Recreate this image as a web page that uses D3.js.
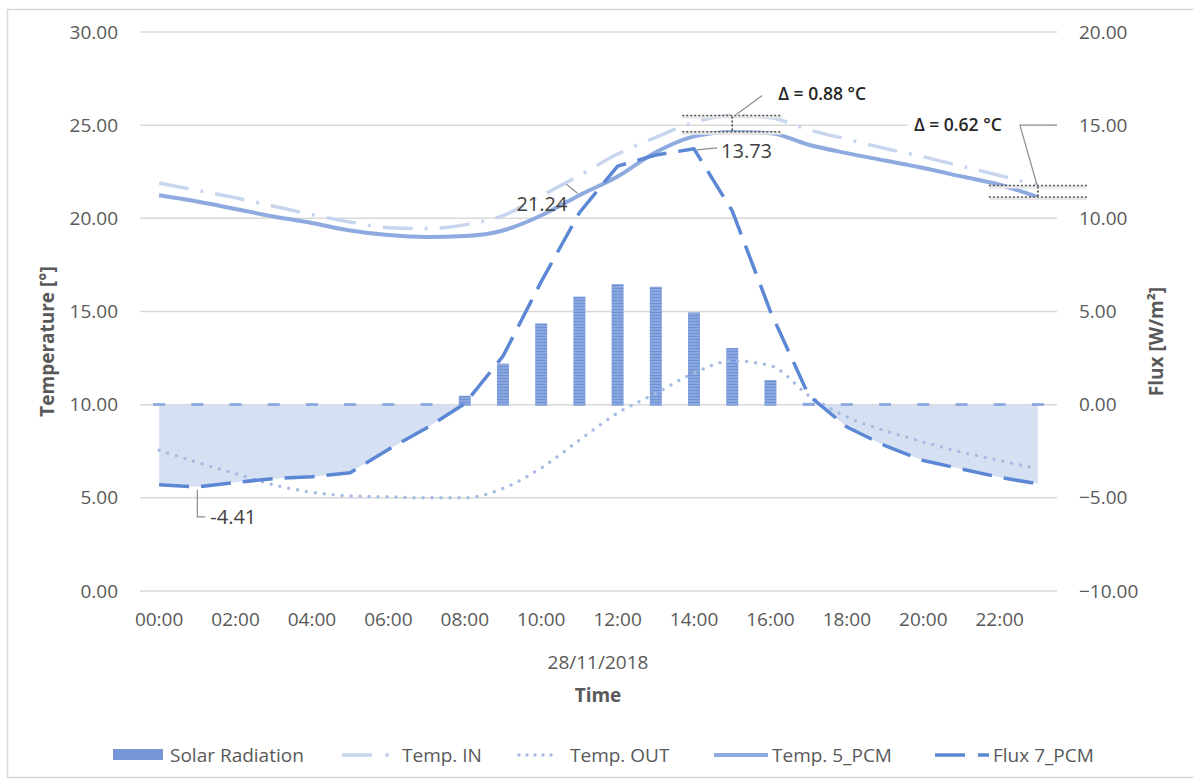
<!DOCTYPE html>
<html>
<head>
<meta charset="utf-8">
<script src="https://cdn.jsdelivr.net/npm/d3@7/dist/d3.min.js"></script>
<style>
  body { margin: 0; background: #fff; }
  svg { font-family: "Open Sans", sans-serif; }
  .tick-label { fill: #595959; font-size: 19px; }
  .axis-title { fill: #595959; font-size: 19px; font-weight: 700; }
  .note { fill: #404040; font-size: 20px; }
  .delta { fill: #262626; font-size: 17.5px; font-weight: 600; }
</style>
</head>
<body>
<div id="chart"></div>
<script>
/* Temperature / flux chart, 28/11/2018 */

const hours = ["00:00","01:00","02:00","03:00","04:00","05:00","06:00","07:00",
    "08:00","09:00","10:00","11:00","12:00","13:00","14:00","15:00",
    "16:00","17:00","18:00","19:00","20:00","21:00","22:00","23:00"];
const xTickLabels = ["00:00","02:00","04:00","06:00","08:00","10:00","12:00",
    "14:00","16:00","18:00","20:00","22:00"];
const leftTicks = [0, 5, 10, 15, 20, 25, 30];
const rightTicks = [-10, -5, 0, 5, 10, 15, 20];

// right axis (W/m2)
const solarRadiation = [0, 0, 0, 0, 0, 0, 0, 0, 0.48, 2.2, 4.36, 5.8,
    6.47, 6.33, 4.95, 3.04, 1.32, 0.1, 0, 0, 0, 0, 0, 0];
const flux7 = [-4.3, -4.41, -4.17, -3.97, -3.87, -3.65, -2.4, -1.25, 0.05, 2.6, 6.6, 10.3,
    12.8, 13.4, 13.73, 10.4, 5.0, 0.5, -1.2, -2.2, -3.0, -3.45, -3.9, -4.25];
// left axis (°)
const tempIn = [21.9, 21.5, 21.1, 20.65, 20.2, 19.8, 19.5, 19.45, 19.65, 20.15, 21.2, 22.3,
    23.45, 24.35, 25.15, 25.52, 25.4, 24.75, 24.25, 23.75, 23.3, 22.8, 22.3, 21.76];
const tempOut = [7.55, 6.9, 6.3, 5.7, 5.3, 5.1, 5.05, 5.0, 5.0, 5.5, 6.6, 8.1,
    9.55, 10.6, 11.7, 12.35, 12.1, 10.5, 9.35, 8.6, 8.0, 7.45, 7.0, 6.55];
const temp5 = [21.24, 20.9, 20.5, 20.1, 19.75, 19.35, 19.1, 19.0, 19.05, 19.35, 20.15, 21.24,
    22.25, 23.55, 24.4, 24.64, 24.57, 23.95, 23.5, 23.1, 22.7, 22.25, 21.8, 21.14];

const W = 1194, H = 782;
const plot = { left: 140, right: 1057, top: 32, bottom: 591 };

const svg = d3.select("#chart").append("svg")
    .attr("width", W)
    .attr("height", H);

// outer chart border
svg.append("rect")
    .attr("x", 7.5).attr("y", 9.5)
    .attr("width", 1200).attr("height", 768)
    .attr("fill", "#fff")
    .attr("stroke", "#d9d9d9")
    .attr("stroke-width", 1.5);

const defs = svg.append("defs");
const pat = defs.append("pattern")
    .attr("id", "stripes")
    .attr("patternUnits", "userSpaceOnUse")
    .attr("width", 12).attr("height", 3);
pat.append("rect").attr("width", 12).attr("height", 3).attr("fill", "#6e92d6");
pat.append("rect").attr("y", 1.5).attr("width", 12).attr("height", 1).attr("fill", "#a3bbe6");

const x = d3.scaleBand()
    .domain(hours)
    .range([plot.left, plot.right])
    .padding(0);
const cx = d => x(d) + x.bandwidth() / 2;

const yL = d3.scaleLinear().domain([0, 30]).range([plot.bottom, plot.top]);
const yR = d3.scaleLinear().domain([-10, 20]).range([plot.bottom, plot.top]);

// GRID LINES
svg.selectAll(".grid-line")
    .data(leftTicks)
    .enter()
    .append("line")
    .attr("x1", plot.left)
    .attr("x2", plot.right)
    .attr("y1", d => yL(d))
    .attr("y2", d => yL(d))
    .attr("stroke", "#d9d9d9")
    .attr("stroke-width", 1.5);

// NEGATIVE FLUX AREA
defs.append("clipPath").attr("id", "below-zero")
    .append("rect")
    .attr("x", 0).attr("y", yR(0))
    .attr("width", W).attr("height", plot.bottom - yR(0));

const area = d3.area()
    .x((d, i) => cx(hours[i]))
    .y0(yR(0))
    .y1(d => yR(d));

svg.append("path")
    .datum(flux7)
    .attr("d", area)
    .attr("fill", "#d5e1f3")
    .attr("clip-path", "url(#below-zero)");

// BARS
svg.selectAll(".bar")
    .data(solarRadiation)
    .enter()
    .append("rect")
    .attr("class", "bar")
    .attr("x", (d, i) => cx(hours[i]) - 6)
    .attr("y", d => Math.min(yR(d), yR(0) - 1.5))
    .attr("width", 12)
    .attr("height", d => Math.max(yR(0) - yR(d), 1.5) + 1)
    .attr("fill", "url(#stripes)");

// LINES
const lineL = d3.line().x((d, i) => cx(hours[i])).y(d => yL(d)).curve(d3.curveMonotoneX);
const lineR = d3.line().x((d, i) => cx(hours[i])).y(d => yR(d));

svg.append("path").datum(tempOut)
    .attr("d", lineL)
    .attr("fill", "none")
    .attr("stroke", "#a7bbe5")
    .attr("stroke-width", 3.5)
    .attr("stroke-linecap", "round")
    .attr("stroke-dasharray", "0 9");

svg.append("path").datum(tempIn)
    .attr("d", lineL)
    .attr("fill", "none")
    .attr("stroke", "#c8d5ef")
    .attr("stroke-width", 3.5)
    .attr("stroke-dasharray", "30 12 3 12");

svg.append("path").datum(temp5)
    .attr("d", lineL)
    .attr("fill", "none")
    .attr("stroke", "#8eaadf")
    .attr("stroke-width", 4);

svg.append("path").datum(flux7)
    .attr("d", lineR)
    .attr("fill", "none")
    .attr("stroke", "#5c87d4")
    .attr("stroke-width", 3.5)
    .attr("stroke-linejoin", "round")
    .attr("stroke-dasharray", "30 12");

// AXES
const xAxis = svg.append("g")
    .attr("transform", `translate(0,${plot.bottom})`)
    .call(d3.axisBottom(x).tickValues(xTickLabels).tickSize(0).tickPadding(22));
xAxis.select(".domain").remove();
xAxis.selectAll("text").attr("class", "tick-label");

const leftAxis = svg.append("g")
    .attr("transform", `translate(${plot.left},0)`)
    .call(d3.axisLeft(yL).tickValues(leftTicks).tickFormat(d3.format(".2f")).tickSize(0).tickPadding(22));
leftAxis.select(".domain").remove();
leftAxis.selectAll("text").attr("class", "tick-label");

const rightAxis = svg.append("g")
    .attr("transform", `translate(${plot.right},0)`)
    .call(d3.axisRight(yR).tickValues(rightTicks).tickFormat(d3.format(".2f")).tickSize(0).tickPadding(22));
rightAxis.select(".domain").remove();
rightAxis.selectAll("text").attr("class", "tick-label");

svg.selectAll("g").attr("font-size", null).attr("font-family", null);

// axis titles
svg.append("text")
    .attr("class", "axis-title")
    .attr("transform", `translate(47,${(plot.top + plot.bottom) / 2 + 30}) rotate(-90)`)
    .attr("text-anchor", "middle")
    .attr("dy", "0.35em")
    .text("Temperature [°]");

svg.append("text")
    .attr("class", "axis-title")
    .attr("transform", `translate(1156,${(plot.top + plot.bottom) / 2 + 30}) rotate(-90)`)
    .attr("text-anchor", "middle")
    .attr("dy", "0.35em")
    .text("Flux [W/m²]");

svg.append("text")
    .attr("class", "tick-label")
    .attr("x", 598).attr("y", 662)
    .attr("text-anchor", "middle")
    .attr("dy", "0.35em")
    .text("28/11/2018");

svg.append("text")
    .attr("class", "axis-title")
    .attr("x", 598).attr("y", 695)
    .attr("text-anchor", "middle")
    .attr("dy", "0.35em")
    .text("Time");

// ANNOTATIONS
const leader = (pts) => svg.append("path")
    .attr("d", d3.line()(pts))
    .attr("fill", "none")
    .attr("stroke", "#8c8c8c")
    .attr("stroke-width", 1.2);

// -4.41 (flux minimum)
{
    const px = cx("01:00"), py = yR(flux7[1]);
    leader([[px, py + 3], [px, py + 30], [px + 8, py + 30]]);
    svg.append("text").attr("class", "note")
        .attr("x", px + 13).attr("y", py + 30).attr("dy", "0.35em")
        .text("-4.41");
}
// 21.24 (Temp 5 at 11:00)
{
    const px = cx("11:00"), py = yL(temp5[11]);
    leader([[px - 2, py - 2], [px - 13, py - 11]]);
    svg.append("text").attr("class", "note")
        .attr("x", px - 12).attr("y", py + 9).attr("text-anchor", "end")
        .attr("dy", "0.35em")
        .text("21.24");
}
// 13.73 (flux max)
{
    const px = cx("14:00"), py = yR(flux7[14]);
    leader([[px + 3, py + 1], [px + 23, py - 1]]);
    svg.append("text").attr("class", "note")
        .attr("x", px + 27).attr("y", py + 2).attr("dy", "0.35em")
        .text("13.73");
}

function deltaMarks(hour, idx, half) {
    const px = cx(hour);
    const yTop = yL(tempIn[idx]), yBot = yL(temp5[idx]);
    [yTop, yBot].forEach(yy => {
        svg.append("line")
            .attr("x1", px - half).attr("x2", px + half)
            .attr("y1", yy + 1.5).attr("y2", yy + 1.5)
            .attr("stroke", "#e6e6e6").attr("stroke-width", 3);
        svg.append("line")
            .attr("x1", px - half).attr("x2", px + half)
            .attr("y1", yy).attr("y2", yy)
            .attr("stroke", "#595959").attr("stroke-width", 1.5)
            .attr("stroke-dasharray", "2 2");
    });
    svg.append("line")
        .attr("x1", px).attr("x2", px)
        .attr("y1", yTop + 1).attr("y2", yBot - 1)
        .attr("stroke", "#404040").attr("stroke-width", 1.5)
        .attr("stroke-dasharray", "2 2");
    return { px, yTop, yBot };
}

// Δ at 15:00
{
    const m = deltaMarks("15:00", 15, 50);
    leader([[m.px + 4, m.yTop - 1], [m.px + 30, m.yTop - 20]]);
    svg.append("text").attr("class", "delta")
        .attr("x", m.px + 46).attr("y", m.yTop - 22).attr("dy", "0.35em")
        .text("Δ = 0.88 °C");
}
// Δ at 23:00
{
    const m = deltaMarks("23:00", 23, 49);
    const ty = yL(25);
    svg.append("rect")
        .attr("x", m.px - 130).attr("y", ty - 14)
        .attr("width", 142).attr("height", 28)
        .attr("fill", "#fff");
    leader([[m.px - 1, m.yTop - 1], [m.px - 18, ty], [m.px + 19, ty]]);
    svg.append("text").attr("class", "delta")
        .attr("x", m.px - 124).attr("y", ty).attr("dy", "0.35em")
        .text("Δ = 0.62 °C");
}

// LEGEND
const legendY = 755;
const lg = svg.append("g").attr("class", "legend");

lg.append("rect").attr("x", 113).attr("y", legendY - 6).attr("width", 50).attr("height", 11)
    .attr("fill", "#7597d8");
lg.append("text").attr("class", "tick-label").attr("x", 170).attr("y", legendY).attr("dy", "0.35em")
    .text("Solar Radiation");

lg.append("path").attr("d", `M342,${legendY}H372M385,${legendY}H389`)
    .attr("stroke", "#c8d5ef").attr("stroke-width", 3.5);
lg.append("text").attr("class", "tick-label").attr("x", 402).attr("y", legendY).attr("dy", "0.35em")
    .text("Temp. IN");

lg.append("path").attr("d", `M519,${legendY}H558`)
    .attr("stroke", "#a7bbe5").attr("stroke-width", 3.5).attr("stroke-linecap", "round")
    .attr("stroke-dasharray", "0 8");
lg.append("text").attr("class", "tick-label").attr("x", 570).attr("y", legendY).attr("dy", "0.35em")
    .text("Temp. OUT");

lg.append("path").attr("d", `M714,${legendY}H768`)
    .attr("stroke", "#8eaadf").attr("stroke-width", 4);
lg.append("text").attr("class", "tick-label").attr("x", 772).attr("y", legendY).attr("dy", "0.35em")
    .text("Temp. 5_PCM");

lg.append("path").attr("d", `M935,${legendY}H965M978,${legendY}H989`)
    .attr("stroke", "#5c87d4").attr("stroke-width", 3.5);
lg.append("text").attr("class", "tick-label").attr("x", 993).attr("y", legendY).attr("dy", "0.35em")
    .text("Flux 7_PCM");
</script>
</body>
</html>
